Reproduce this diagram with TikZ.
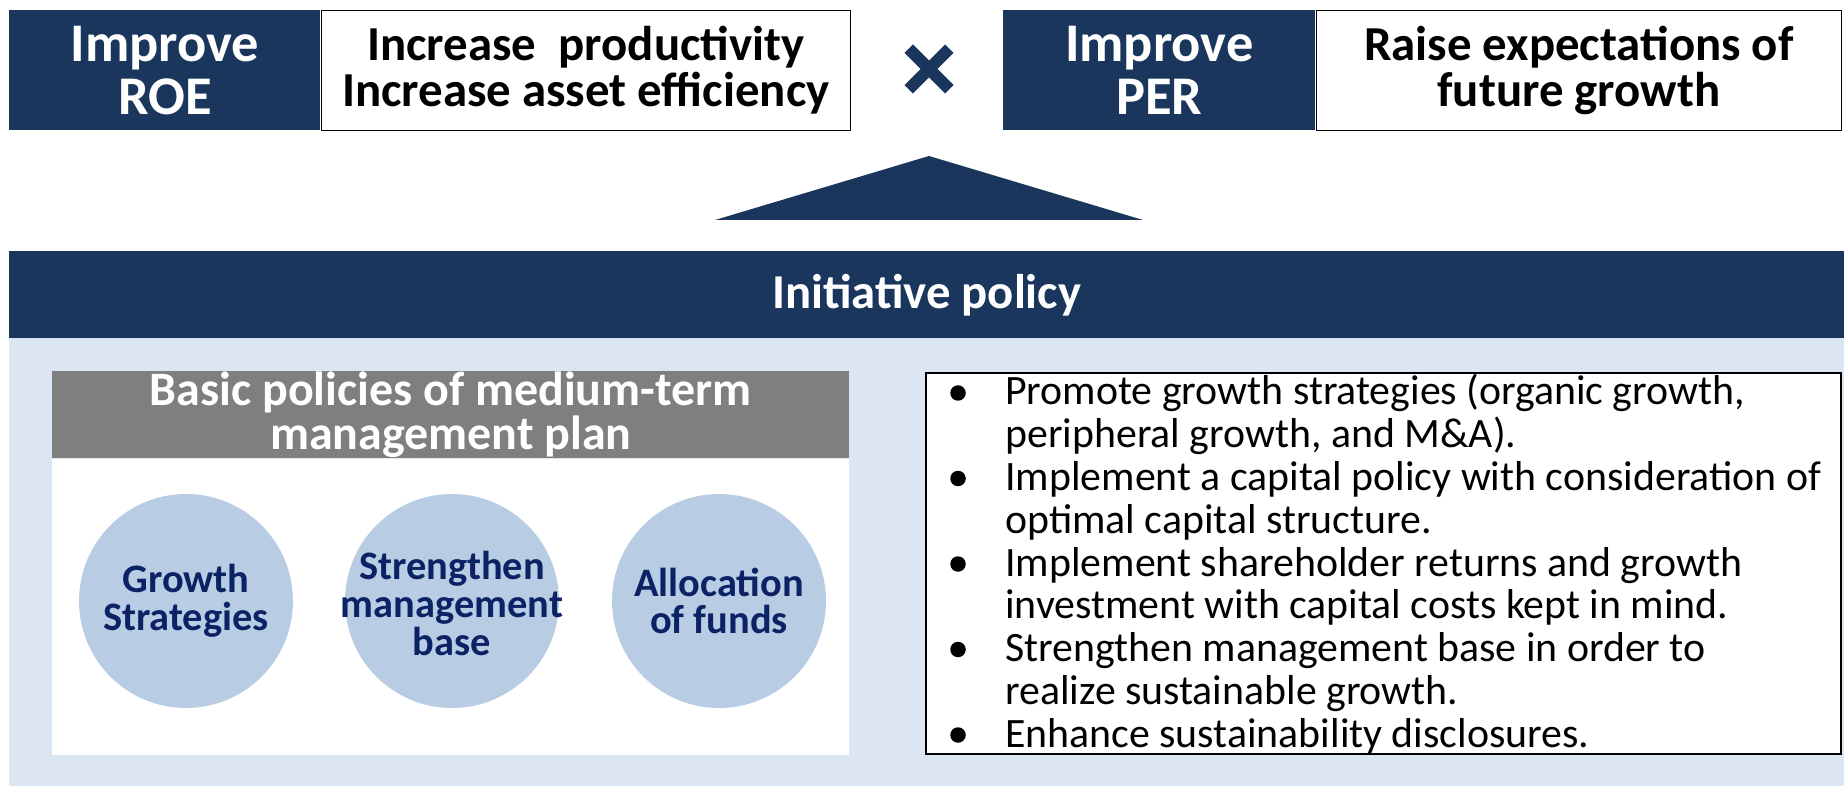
\documentclass[tikz,border=0pt]{standalone}
\usepackage{fontspec}
\setmainfont{Carlito}
\usepackage{xcolor}
\usetikzlibrary{positioning}

\definecolor{navy}{HTML}{1B365D}
\definecolor{paleblue}{HTML}{DCE6F2}
\definecolor{discblue}{HTML}{B8CCE4}
\definecolor{inkblue}{HTML}{0B2265}
\definecolor{headgray}{HTML}{7F7F7F}

\tikzset{
    darkbox/.style={fill=navy, text=white, inner sep=0pt, align=center,
        minimum height=2.4cm, font=\fontsize{31}{30}\selectfont\bfseries},
    whitebox/.style={draw=black, line width=0.9pt, fill=white, inner sep=0pt, align=center,
        minimum height=2.4cm, font=\fontsize{27.8}{26}\selectfont\bfseries},
    disc/.style={circle, fill=discblue, minimum size=4.28cm, inner sep=0pt},
    disctext/.style={align=center, inner sep=0pt, text=inkblue,
        font=\fontsize{23}{21.5}\selectfont\bfseries},
    listline/.style={anchor=base west, inner sep=0pt, font=\fontsize{23.8}{25}\selectfont},
    dot/.style={circle, fill=black, minimum size=0.31cm, inner sep=0pt},
}

\begin{document}
\begin{tikzpicture}[x=0.02cm, y=-0.02cm]
    \useasboundingbox (0,0) rectangle (1844,786);

    % top row: ROE x PER
    \node[darkbox, minimum width=6.22cm, anchor=north west] (roe) at (9,10) {Improve\\ROE};
    \node[whitebox, minimum width=10.58cm, right=0pt of roe] (roeaim) {Increase\ \ productivity\\Increase asset efficiency};
    \node[darkbox, minimum width=6.24cm, anchor=north west] (per) at (1003,10) {Improve\\PER};
    \node[whitebox, minimum width=10.5cm, right=0pt of per] (peraim) {Raise expectations of\\future growth};

    \node[minimum size=0.8cm, inner sep=0pt] (cross) at (929,69) {};
    \draw[navy, line width=0.24cm] (cross.north west) -- (cross.south east)
                                   (cross.north east) -- (cross.south west);

    % triangle pointing up
    \coordinate (apex) at (929,156);
    \coordinate (baseL) at (715,220);
    \coordinate (baseR) at (1143,220);
    \fill[navy] (apex) -- (baseR) -- (baseL) -- cycle;

    % lower panel
    \fill[paleblue] (9,338) rectangle (1844,786);
    \node[fill=navy, text=white, minimum width=36.7cm, minimum height=1.74cm, inner sep=0pt,
          anchor=north west, font=\fontsize{27.7}{30}\selectfont\bfseries] (policy) at (9,251) {Initiative policy};

    \node[fill=headgray, text=white, minimum width=15.94cm, minimum height=1.72cm, inner sep=0pt,
          anchor=north west, align=center, font=\fontsize{27.3}{25.6}\selectfont\bfseries] (basic) at (52,371)
          {Basic policies of medium-term\\management plan};
    \node[fill=white, minimum width=15.94cm, minimum height=5.92cm, inner sep=0pt, below=0pt of basic] (plan) {};

    % the three discs, text laid on top so every disc keeps one size
    \node[disc, label={[disctext]center:{Growth\\Strategies}}] (growth) at (186,601) {};
    \node[disc, label={[disctext, yshift=-0.05cm]center:{Strengthen\\management\\base}}] (base) at (452,601) {};
    \node[disc, label={[disctext]center:{Allocation\\of funds}}] (funds) at (719,601) {};

    % bullet list
    \node[draw=black, line width=1.1pt, fill=white, minimum width=18.3cm, minimum height=7.62cm,
          anchor=north west] (list) at (925,372) {};
    \foreach \txt [count=\i from 0] in {
        {Promote growth strategies (organic growth,},
        {peripheral growth, and M\&A).},
        {Implement a capital policy with consideration of},
        {optimal capital structure.},
        {Implement shareholder returns and growth},
        {investment with capital costs kept in mind.},
        {Strengthen management base in order to},
        {realize sustainable growth.},
        {Enhance sustainability disclosures.}}
    {
        \node[listline] (line\i) at (1005,{405+42.75*\i}) {\txt};
    }
    \foreach \i in {0,2,4,6,8}
        \node[dot] (dot\i) at (958,{393+42.75*\i}) {};
\end{tikzpicture}
\end{document}
